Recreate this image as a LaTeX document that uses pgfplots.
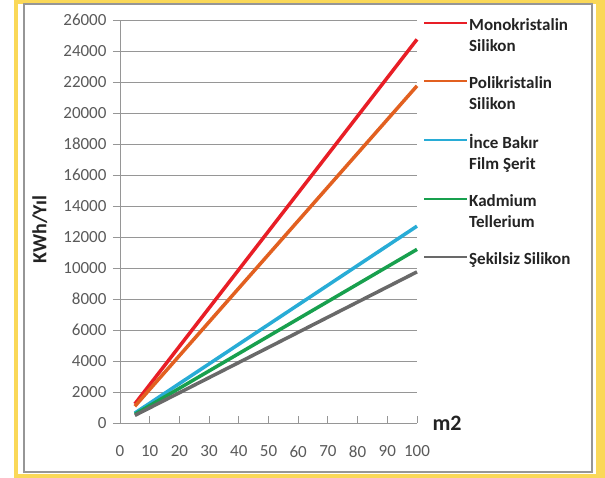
\documentclass[border=0pt]{standalone}
\usepackage{pgfplots}
\pgfplotsset{compat=1.18}
\usepackage{fontspec}
\setmainfont{Carlito}

\definecolor{monored}{RGB}{232,30,38}
\definecolor{poliorange}{RGB}{226,96,32}
\definecolor{incecyan}{RGB}{40,172,214}
\definecolor{kadgreen}{RGB}{24,160,78}
\definecolor{sekgrey}{RGB}{105,105,105}
\definecolor{frameyellow}{RGB}{250,216,88}
\definecolor{txtgrey}{RGB}{90,90,90}
\definecolor{txtdark}{RGB}{35,35,35}
\definecolor{gridgrey}{RGB}{150,150,150}

% two-line legend text, baseline on the first line
\newcommand{\twoline}[2]{\vtop{\hbox{#1}\hbox{#2}}}

\begin{document}
\begin{tikzpicture}
\useasboundingbox (0pt,0pt) rectangle (605pt,478pt);
\fill[white] (0pt,0pt) rectangle (605pt,478pt);
% frame
\fill[frameyellow] (596pt,0pt) rectangle (605pt,478pt);
\draw[frameyellow, line width=4pt] (16pt,2pt) rectangle (598pt,476pt);
\draw[gridgrey, line width=1.5pt] (24pt,6pt) rectangle (592pt,474pt);

\begin{axis}[
    at={(120pt,55pt)}, anchor=south west,
    scale only axis, width=297pt, height=403pt,
    xmin=0, xmax=100, ymin=0, ymax=26000,
    clip=false, scaled y ticks=false,
    axis x line*=bottom, axis y line*=left,
    axis line style={gridgrey, line width=0.9pt},
    xtick={0,10,...,100}, ytick={0,2000,...,26000},
    ymajorgrids, grid style={gridgrey, line width=0.9pt},
    tick style={gridgrey, line width=0.9pt},
    major tick length=7pt,
    ytick align=outside, xtick align=inside,
    /pgf/number format/.cd, 1000 sep={}, assume math mode=true, /pgfplots/.cd,
    tick label style={font=\fontsize{17}{17}\selectfont, text=txtgrey},
    yticklabel style={xshift=-3pt},
    xticklabel style={yshift=-19pt},
    xlabel={m2},
    xlabel style={at={(rel axis cs:1,0)}, anchor=west, xshift=12pt,
        font=\bfseries\fontsize{22}{22}\selectfont, text=txtdark},
    ylabel={KWh/Yıl},
    ylabel style={at={(axis description cs:-0.27,0.48)}, anchor=center,
        font=\bfseries\fontsize{20}{20}\selectfont, text=txtdark},
    legend style={at={(rel axis cs:1,1)}, anchor=north west, xshift=3pt, yshift=5pt,
        draw=none, fill=none, row sep=42.5pt,
        font=\bfseries\fontsize{17}{21}\selectfont, text=txtdark,
        nodes={inner sep=1pt}},
    legend cell align=left,
    legend image code/.code={\draw[#1, line width=2pt] (0pt,2pt) -- (43pt,2pt);},
]
\addplot[monored, line width=3.5pt] coordinates {(5,1230) (100,24750)};
\addlegendentry{\twoline{Monokristalin}{Silikon}}
\addplot[poliorange, line width=3.5pt] coordinates {(5,1080) (100,21750)};
\addlegendentry{\twoline{Polikristalin}{Silikon}}
\addplot[incecyan, line width=3.5pt] coordinates {(5,640) (100,12700)};
\addlegendentry{\twoline{İnce Bakır}{Film Şerit}}
\addplot[kadgreen, line width=3.5pt] coordinates {(5,560) (100,11200)};
\addlegendentry{\twoline{Kadmium}{Tellerium}}
\addplot[sekgrey, line width=3.5pt] coordinates {(5,490) (100,9750)};
\addlegendentry{Şekilsiz Silikon}
\end{axis}
\end{tikzpicture}
\end{document}
